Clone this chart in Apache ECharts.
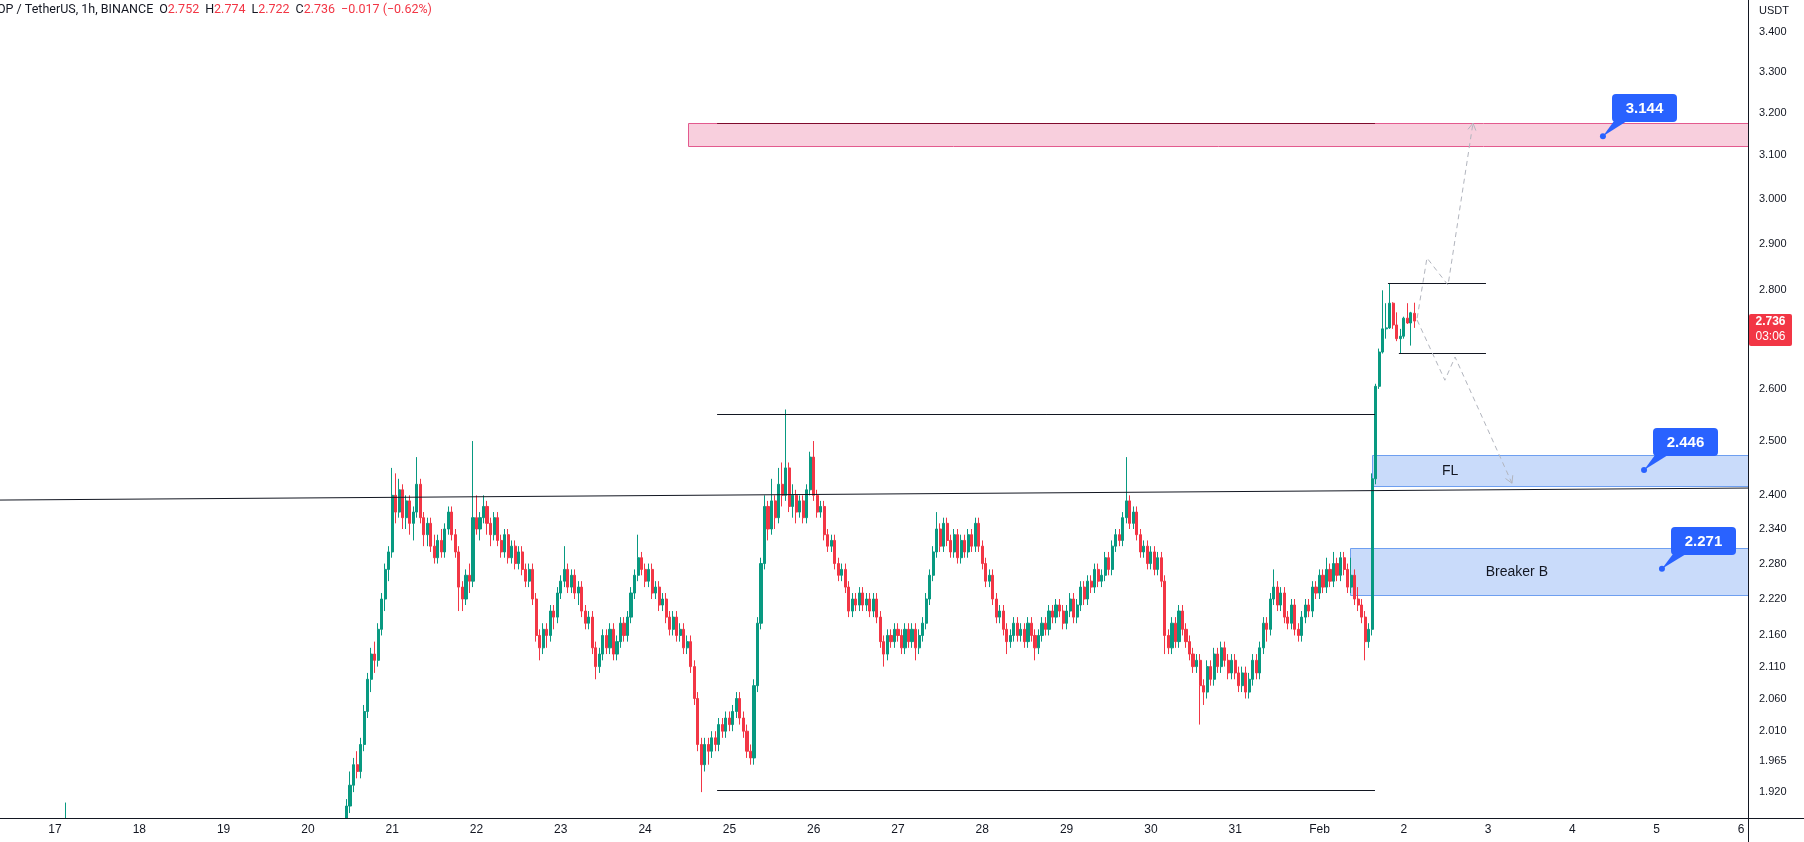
<!DOCTYPE html>
<html>
<head>
<meta charset="utf-8">
<script src="https://cdn.jsdelivr.net/npm/echarts@6/dist/echarts.min.js"></script>
<style>
html,body{margin:0;padding:0;background:#ffffff;}
#c{width:1804px;height:842px;}
</style>
</head>
<body>
<div id="c"></div>
<script>
// ---------------- DATA ----------------
const symbolTitle = 'OP / TetherUS, 1h, BINANCE';
const countdown = '03:06';
const quoteUnit = 'USDT';

// x axis: hours counted from 17 Jan 00:00
const dayLabels = ['17','18','19','20','21','22','23','24','25','26','27','28','29','30','31','Feb','2','3','4','5','6'];
const priceTicks = [3.4, 3.3, 3.2, 3.1, 3.0, 2.9, 2.8, 2.6, 2.5, 2.4, 2.34, 2.28, 2.22, 2.16, 2.11, 2.06, 2.01, 1.965, 1.92];

// early candle visible at the bottom edge: [hour, open, high, low, close]
const earlyCandles = [[3, 1.80, 1.905, 1.79, 1.84]];

// hourly candles [open, high, low, close], first one at hour 83 (20 Jan 11:00)
const firstHour = 83;
const candles = [
  // 20 Jan
  [1.85,1.91,1.84,1.90],[1.90,1.95,1.89,1.93],[1.93,1.97,1.92,1.96],[1.96,1.98,1.94,1.95],[1.95,2.00,1.94,1.99],
  [1.99,2.05,1.98,2.04],[2.04,2.10,2.03,2.09],[2.09,2.14,2.07,2.13],[2.13,2.15,2.10,2.12],[2.12,2.18,2.11,2.17],
  [2.17,2.23,2.16,2.22],[2.22,2.28,2.20,2.27],[2.27,2.31,2.25,2.30],[2.30,2.45,2.29,2.40],
  // 21 Jan
  [2.40,2.44,2.35,2.37],[2.37,2.43,2.36,2.41],[2.41,2.42,2.34,2.36],[2.36,2.40,2.34,2.39],[2.39,2.40,2.33,2.35],
  [2.35,2.38,2.32,2.37],[2.37,2.47,2.36,2.42],[2.42,2.43,2.35,2.36],[2.36,2.37,2.31,2.33],[2.33,2.36,2.31,2.35],
  [2.35,2.36,2.30,2.31],[2.31,2.33,2.28,2.29],[2.29,2.33,2.28,2.32],[2.32,2.34,2.29,2.30],[2.30,2.35,2.29,2.34],
  [2.34,2.38,2.33,2.37],[2.37,2.38,2.32,2.33],[2.33,2.34,2.29,2.30],[2.30,2.31,2.20,2.24],[2.24,2.25,2.20,2.22],
  [2.22,2.27,2.21,2.26],[2.26,2.28,2.23,2.25],[2.25,2.50,2.24,2.36],[2.36,2.40,2.33,2.34],
  // 22 Jan
  [2.34,2.37,2.32,2.36],[2.36,2.40,2.35,2.38],[2.38,2.39,2.33,2.35],[2.35,2.36,2.31,2.33],[2.33,2.37,2.32,2.36],
  [2.36,2.37,2.31,2.32],[2.32,2.33,2.29,2.30],[2.30,2.34,2.29,2.33],[2.33,2.34,2.28,2.29],[2.29,2.32,2.28,2.31],
  [2.31,2.32,2.27,2.28],[2.28,2.31,2.27,2.30],[2.30,2.31,2.26,2.27],[2.27,2.28,2.24,2.25],[2.25,2.28,2.24,2.27],
  [2.27,2.28,2.21,2.22],[2.22,2.23,2.15,2.16],[2.16,2.17,2.12,2.14],[2.14,2.18,2.13,2.17],[2.17,2.18,2.14,2.16],
  [2.16,2.21,2.15,2.20],[2.20,2.21,2.17,2.19],[2.19,2.24,2.18,2.23],[2.23,2.26,2.22,2.25],
  // 23 Jan
  [2.25,2.31,2.24,2.27],[2.27,2.28,2.23,2.24],[2.24,2.27,2.23,2.26],[2.26,2.27,2.22,2.23],[2.23,2.25,2.21,2.24],
  [2.24,2.25,2.19,2.20],[2.20,2.21,2.17,2.18],[2.18,2.20,2.17,2.19],[2.19,2.20,2.13,2.14],[2.14,2.15,2.09,2.11],
  [2.11,2.14,2.10,2.13],[2.13,2.17,2.12,2.16],[2.16,2.17,2.13,2.14],[2.14,2.18,2.13,2.17],[2.17,2.18,2.12,2.13],
  [2.13,2.16,2.12,2.15],[2.15,2.19,2.14,2.18],[2.18,2.19,2.15,2.16],[2.16,2.20,2.15,2.19],[2.19,2.24,2.18,2.23],
  [2.23,2.27,2.22,2.26],[2.26,2.33,2.25,2.29],[2.29,2.30,2.26,2.27],[2.27,2.28,2.24,2.25],
  // 24 Jan
  [2.25,2.28,2.24,2.27],[2.27,2.28,2.22,2.23],[2.23,2.25,2.22,2.24],[2.24,2.25,2.20,2.21],[2.21,2.23,2.20,2.22],
  [2.22,2.23,2.18,2.19],[2.19,2.20,2.16,2.17],[2.17,2.20,2.16,2.19],[2.19,2.20,2.15,2.16],[2.16,2.18,2.15,2.17],
  [2.17,2.18,2.13,2.14],[2.14,2.16,2.13,2.15],[2.15,2.16,2.10,2.11],[2.11,2.12,2.05,2.06],[2.06,2.07,1.98,1.99],
  [1.99,2.00,1.92,1.96],[1.96,2.00,1.95,1.99],[1.99,2.00,1.96,1.98],[1.98,2.01,1.97,2.00],[2.00,2.01,1.98,1.99],
  [1.99,2.03,1.98,2.02],[2.02,2.03,2.00,2.01],[2.01,2.04,2.00,2.03],[2.03,2.04,2.01,2.02],
  // 25 Jan
  [2.02,2.05,2.01,2.04],[2.04,2.07,2.03,2.06],[2.06,2.07,2.02,2.03],[2.03,2.04,2.00,2.01],[2.01,2.02,1.97,1.98],
  [1.98,1.99,1.96,1.97],[1.97,2.09,1.96,2.08],[2.08,2.19,2.07,2.18],[2.18,2.29,2.17,2.28],[2.28,2.40,2.27,2.38],
  [2.38,2.39,2.32,2.34],[2.34,2.43,2.33,2.39],[2.39,2.40,2.34,2.36],[2.36,2.45,2.35,2.42],[2.42,2.46,2.38,2.40],
  [2.40,2.56,2.39,2.45],[2.45,2.46,2.37,2.38],[2.38,2.42,2.36,2.40],[2.40,2.41,2.35,2.37],[2.37,2.40,2.36,2.39],
  [2.39,2.40,2.35,2.36],[2.36,2.42,2.35,2.41],[2.41,2.48,2.40,2.47],[2.47,2.50,2.39,2.40],
  // 26 Jan
  [2.40,2.41,2.36,2.37],[2.37,2.39,2.36,2.38],[2.38,2.39,2.32,2.33],[2.33,2.34,2.30,2.31],[2.31,2.33,2.30,2.32],
  [2.32,2.33,2.27,2.28],[2.28,2.29,2.25,2.26],[2.26,2.28,2.25,2.27],[2.27,2.28,2.23,2.24],[2.24,2.25,2.19,2.20],
  [2.20,2.23,2.19,2.22],[2.22,2.23,2.20,2.21],[2.21,2.24,2.20,2.23],[2.23,2.24,2.20,2.21],[2.21,2.23,2.20,2.22],
  [2.22,2.23,2.19,2.20],[2.20,2.23,2.19,2.22],[2.22,2.23,2.18,2.19],[2.19,2.20,2.14,2.15],[2.15,2.16,2.11,2.13],
  [2.13,2.17,2.12,2.16],[2.16,2.17,2.14,2.15],[2.15,2.18,2.14,2.17],[2.17,2.18,2.15,2.16],
  // 27 Jan
  [2.16,2.17,2.13,2.14],[2.14,2.18,2.13,2.17],[2.17,2.18,2.14,2.15],[2.15,2.18,2.14,2.17],[2.17,2.18,2.12,2.14],
  [2.14,2.17,2.13,2.16],[2.16,2.19,2.15,2.18],[2.18,2.23,2.17,2.22],[2.22,2.27,2.21,2.26],[2.26,2.31,2.25,2.30],
  [2.30,2.37,2.29,2.34],[2.34,2.35,2.30,2.31],[2.31,2.36,2.30,2.35],[2.35,2.36,2.31,2.32],[2.32,2.33,2.29,2.30],
  [2.30,2.34,2.29,2.33],[2.33,2.34,2.28,2.29],[2.29,2.33,2.28,2.32],[2.32,2.33,2.29,2.30],[2.30,2.34,2.29,2.33],
  [2.33,2.34,2.30,2.31],[2.31,2.36,2.30,2.35],[2.35,2.36,2.30,2.31],[2.31,2.32,2.27,2.28],
  // 28 Jan
  [2.28,2.29,2.24,2.25],[2.25,2.27,2.24,2.26],[2.26,2.27,2.21,2.22],[2.22,2.23,2.18,2.19],[2.19,2.21,2.18,2.20],
  [2.20,2.21,2.16,2.17],[2.17,2.18,2.13,2.15],[2.15,2.17,2.14,2.16],[2.16,2.19,2.15,2.18],[2.18,2.19,2.15,2.16],
  [2.16,2.18,2.15,2.17],[2.17,2.18,2.14,2.15],[2.15,2.19,2.14,2.18],[2.18,2.19,2.15,2.16],[2.16,2.17,2.12,2.14],
  [2.14,2.17,2.13,2.16],[2.16,2.19,2.15,2.18],[2.18,2.19,2.16,2.17],[2.17,2.21,2.16,2.20],[2.20,2.21,2.18,2.19],
  [2.19,2.22,2.18,2.21],[2.21,2.22,2.19,2.20],[2.20,2.21,2.17,2.18],[2.18,2.21,2.17,2.20],
  // 29 Jan
  [2.20,2.23,2.19,2.22],[2.22,2.23,2.18,2.19],[2.19,2.22,2.18,2.21],[2.21,2.25,2.20,2.24],[2.24,2.25,2.21,2.22],
  [2.22,2.26,2.21,2.25],[2.25,2.26,2.23,2.24],[2.24,2.28,2.23,2.27],[2.27,2.28,2.24,2.25],[2.25,2.27,2.24,2.26],
  [2.26,2.30,2.25,2.29],[2.29,2.30,2.26,2.27],[2.27,2.32,2.26,2.31],[2.31,2.34,2.30,2.33],[2.33,2.34,2.31,2.32],
  [2.32,2.37,2.31,2.36],[2.36,2.47,2.35,2.39],[2.39,2.40,2.34,2.35],[2.35,2.38,2.34,2.37],[2.37,2.38,2.32,2.33],
  [2.33,2.34,2.29,2.30],[2.30,2.32,2.29,2.31],[2.31,2.32,2.27,2.28],[2.28,2.31,2.27,2.30],
  // 30 Jan
  [2.30,2.31,2.26,2.27],[2.27,2.30,2.26,2.29],[2.29,2.30,2.24,2.25],[2.25,2.26,2.13,2.16],[2.16,2.17,2.13,2.14],
  [2.14,2.19,2.13,2.18],[2.18,2.19,2.14,2.15],[2.15,2.21,2.14,2.20],[2.20,2.21,2.16,2.17],[2.17,2.18,2.14,2.15],
  [2.15,2.16,2.12,2.13],[2.13,2.14,2.10,2.11],[2.11,2.13,2.10,2.12],[2.12,2.13,2.02,2.08],[2.08,2.09,2.05,2.07],
  [2.07,2.12,2.06,2.11],[2.11,2.12,2.08,2.09],[2.09,2.14,2.08,2.13],[2.13,2.14,2.10,2.11],[2.11,2.15,2.10,2.14],
  [2.14,2.15,2.11,2.12],[2.12,2.13,2.09,2.10],[2.10,2.13,2.09,2.12],[2.12,2.13,2.09,2.10],
  // 31 Jan
  [2.10,2.11,2.07,2.08],[2.08,2.11,2.07,2.10],[2.10,2.11,2.06,2.07],[2.07,2.10,2.06,2.09],[2.09,2.13,2.08,2.12],
  [2.12,2.13,2.09,2.10],[2.10,2.15,2.09,2.14],[2.14,2.19,2.13,2.18],[2.18,2.19,2.15,2.17],[2.17,2.23,2.16,2.22],
  [2.22,2.27,2.21,2.24],[2.24,2.25,2.20,2.21],[2.21,2.24,2.20,2.23],[2.23,2.24,2.18,2.19],[2.19,2.20,2.17,2.18],
  [2.18,2.22,2.17,2.21],[2.21,2.22,2.16,2.17],[2.17,2.18,2.15,2.16],[2.16,2.20,2.15,2.19],[2.19,2.22,2.18,2.21],
  [2.21,2.22,2.19,2.20],[2.20,2.25,2.19,2.24],[2.24,2.25,2.22,2.23],[2.23,2.27,2.22,2.26],
  // 1 Feb
  [2.26,2.27,2.23,2.24],[2.24,2.29,2.23,2.27],[2.27,2.28,2.24,2.25],[2.25,2.30,2.24,2.28],[2.28,2.29,2.25,2.26],
  [2.26,2.30,2.25,2.29],[2.29,2.30,2.26,2.27],[2.27,2.28,2.23,2.24],[2.24,2.29,2.23,2.26],[2.26,2.27,2.21,2.22],
  [2.22,2.24,2.20,2.21],[2.21,2.22,2.18,2.19],[2.19,2.20,2.12,2.15],[2.15,2.18,2.14,2.17],[2.17,2.44,2.16,2.43],
  [2.43,2.61,2.42,2.605],[2.605,2.68,2.60,2.673],[2.673,2.80,2.67,2.72],[2.72,2.773,2.70,2.722],[2.722,2.815,2.72,2.773],
  [2.773,2.775,2.72,2.728],[2.728,2.754,2.695,2.70],[2.70,2.72,2.671,2.705],[2.705,2.745,2.70,2.742],
  // 2 Feb
  [2.742,2.773,2.73,2.732],[2.732,2.755,2.686,2.753],[2.752,2.774,2.722,2.736]
];

// drawings (hours from 17 Jan 00:00, prices in USDT)
const zones = [
  { kind: 'target', from: 180.2, to: 482.0, low: 3.121, high: 3.175, text: '', textHour: 0 },
  { kind: 'demand', from: 374.9, to: 482.0, low: 2.417, high: 2.474, text: 'FL', textHour: 397.2 },
  { kind: 'demand', from: 368.7, to: 482.0, low: 2.2265, high: 2.3066, text: 'Breaker B', textHour: 416.2 }
];
// [fromHour, fromPrice, toHour, toPrice, kind]
const levelLines = [
  [188.5, 3.175, 375.8, 3.175, 'accent'],
  [188.5, 2.551, 375.8, 2.551, 'plain'],
  [188.5, 1.923, 375.8, 1.923, 'plain'],
  [-15.66, 2.3915, 482.0, 2.4132, 'plain'],
  [379.5, 2.815, 407.4, 2.815, 'plain'],
  [382.6, 2.671, 407.4, 2.671, 'plain']
];
const projections = [
  [[387.8, 2.742], [390.6, 2.869], [396.6, 2.811], [403.7, 3.175]],
  [[387.8, 2.738], [395.7, 2.617], [398.6, 2.663], [414.8, 2.422]]
];
const callouts = [
  { hour: 440.7, price: 3.144 },
  { hour: 452.4, price: 2.446 },
  { hour: 457.5, price: 2.271 }
];

// ---------------- CHART ----------------
const X_MIN = -15.66, X_MAX = 482.0, Y_MIN = 1.883, Y_MAX = 3.483;
const UP = '#089981', DOWN = '#f23645', BLUE = '#2962ff', INK = '#131722';
const FONT = '"Liberation Sans", Arial, sans-serif';
const HFONT = 'Roboto, "Liberation Sans", sans-serif';

const candleData = [];
earlyCandles.forEach(r => candleData.push([r[0], r[1], r[4], r[3], r[2]]));
candles.forEach((r, i) => candleData.push([firstHour + i, r[0], r[3], r[2], r[1]]));
const lastHour = firstHour + candles.length - 1;
const last = candles[candles.length - 1];
const prev = candles[candles.length - 2];

const zoneStyle = {
  target: { fill: 'rgba(227,63,119,0.25)', stroke: '#e35a8e' },
  demand: { fill: 'rgba(41,110,235,0.25)', stroke: '#6e9ff0' }
};
const lineColor = { accent: '#7f0a2c', plain: INK };

function headerText() {
  const f = v => v.toFixed(3);
  const chg = last[3] - prev[3];
  const pct = chg / prev[3] * 100;
  const s = chg < 0 ? '\u2212' : '+';
  return '{d|' + symbolTitle + '}  {d|O}{r|' + f(last[0]) + '}  {d|H}{r|' + f(last[1]) + '}  {d|L}{r|' + f(last[2]) +
    '}  {d|C}{r|' + f(last[3]) + '}  {r|' + s + Math.abs(chg).toFixed(3) + ' (' + s + Math.abs(pct).toFixed(2) + '%)}';
}

function txt(x, y, text, font, fill, align, valign) {
  return { type: 'text', style: { x: x, y: y, text: text, font: font, fill: fill,
    align: align, verticalAlign: valign, textAlign: align, textVerticalAlign: valign } };
}

const chart = echarts.init(document.getElementById('c'), null, { renderer: 'canvas' });
chart.setOption({
  animation: false,
  backgroundColor: '#ffffff',
  grid: { left: 0, right: 56, top: 0, bottom: 24 },
  xAxis: {
    type: 'value', min: X_MIN, max: X_MAX, z: 20,
    axisLine: { show: false }, axisTick: { show: false }, splitLine: { show: false },
    axisLabel: {
      customValues: dayLabels.map((_, i) => i * 24),
      formatter: v => dayLabels[Math.round(v / 24)],
      color: INK, fontSize: 12, fontFamily: 'Liberation Sans', margin: 6
    }
  },
  yAxis: {
    type: 'log', logBase: 10, min: Y_MIN, max: Y_MAX, position: 'right', z: 20,
    axisLine: { show: false }, axisTick: { show: false }, splitLine: { show: false },
    axisLabel: {
      customValues: priceTicks,
      formatter: v => Number(v).toFixed(3),
      color: INK, fontSize: 11, fontFamily: 'Liberation Sans', margin: 11
    }
  },
  series: [
    {
      type: 'custom', z: 1, clip: false,
      data: zones.map(z => [z.from, z.low]),
      encode: { x: 0, y: 1 },
      renderItem: (params, api) => {
        const z = zones[params.dataIndex];
        const st = zoneStyle[z.kind];
        const a = api.coord([z.from, z.high]);
        const b = api.coord([z.to, z.low]);
        const ch = [{ type: 'rect', shape: { x: Math.round(a[0]) + 0.5, y: Math.round(a[1]) + 0.5,
          width: Math.round(b[0] - a[0]), height: Math.round(b[1] - a[1]) },
          style: { fill: st.fill, stroke: st.stroke, lineWidth: 1 } }];
        if (z.text) {
          const c = api.coord([z.textHour, Math.sqrt(z.low * z.high)]);
          ch.push(txt(c[0], c[1] + 1, z.text, '14px ' + FONT, INK, 'center', 'middle'));
        }
        return { type: 'group', children: ch };
      }
    },
    {
      type: 'candlestick', z: 2, clip: true,
      data: candleData,
      encode: { x: 0, y: [1, 2, 3, 4] },
      barWidth: 2.6,
      itemStyle: { color: UP, color0: DOWN, borderColor: UP, borderColor0: DOWN, borderWidth: 1 }
    },
    {
      type: 'custom', z: 3, clip: false,
      data: levelLines.map(l => [l[0], l[1]]),
      encode: { x: 0, y: 1 },
      renderItem: (params, api) => {
        const l = levelLines[params.dataIndex];
        const a = api.coord([l[0], l[1]]);
        const b = api.coord([l[2], l[3]]);
        const flat = Math.abs(a[1] - b[1]) < 0.5;
        const ya = flat ? Math.round(a[1]) + 0.5 : a[1];
        const yb = flat ? ya : b[1];
        return { type: 'line', shape: { x1: a[0], y1: ya, x2: b[0], y2: yb },
          style: { stroke: lineColor[l[4]], lineWidth: 1 } };
      }
    },
    {
      type: 'custom', z: 4, clip: false,
      data: projections.map(p => [p[0][0], p[0][1]]),
      encode: { x: 0, y: 1 },
      renderItem: (params, api) => {
        const path = projections[params.dataIndex].map(p => api.coord(p));
        const n = path.length;
        const e = path[n - 1], s = path[n - 2];
        const ang = Math.atan2(e[1] - s[1], e[0] - s[0]);
        const L = 8, w = Math.PI / 6;
        const w1 = [e[0] - L * Math.cos(ang - w), e[1] - L * Math.sin(ang - w)];
        const w2 = [e[0] - L * Math.cos(ang + w), e[1] - L * Math.sin(ang + w)];
        const st = { stroke: '#b2b5be', lineWidth: 1, lineDash: [5, 4], fill: null };
        return { type: 'group', children: [
          { type: 'polyline', shape: { points: path }, style: st },
          { type: 'polyline', shape: { points: [w1, e, w2] }, style: { stroke: '#b2b5be', lineWidth: 1, fill: null } }
        ] };
      }
    },
    {
      type: 'custom', z: 5, clip: false,
      data: callouts.map(c => [c.hour, c.price]),
      encode: { x: 0, y: 1 },
      renderItem: (params, api) => {
        const c = callouts[params.dataIndex];
        const p = api.coord([c.hour, c.price]);
        const bx = Math.round(p[0] + 9), by = Math.round(p[1] - 42);
        return { type: 'group', children: [
          { type: 'polygon', shape: { points: [[p[0], p[1]], [bx + 2, by + 27], [bx + 15, by + 27]] }, style: { fill: BLUE } },
          { type: 'circle', shape: { cx: p[0], cy: p[1], r: 3 }, style: { fill: BLUE } },
          { type: 'rect', shape: { x: bx, y: by, width: 65, height: 28, r: 4 }, style: { fill: BLUE } },
          txt(bx + 32.5, by + 14.5, c.price.toFixed(3), 'bold 15px ' + FONT, '#ffffff', 'center', 'middle')
        ] };
      }
    },
    {
      type: 'custom', z: 6, clip: false,
      data: [[lastHour, last[3]]],
      encode: { x: 0, y: 1 },
      renderItem: (params, api) => {
        const p = api.coord([X_MAX, last[3]]);
        const x0 = Math.round(p[0]) + 1, y0 = Math.round(p[1]);
        return { type: 'group', children: [
          { type: 'rect', shape: { x: x0, y: y0 - 7, width: 43, height: 32, r: 2 }, style: { fill: DOWN } },
          txt(x0 + 21.5, y0 + 1, last[3].toFixed(3), 'bold 12px ' + FONT, '#ffffff', 'center', 'middle'),
          txt(x0 + 21.5, y0 + 16, countdown, '12px ' + FONT, '#ffffff', 'center', 'middle')
        ] };
      }
    }
  ],
  graphic: [
    // white band under the plot so candles reaching below the price range are cut at the time axis
    { type: 'rect', z: 8, shape: { x: 0, y: 819, width: 1748, height: 23 }, style: { fill: '#ffffff' } },
    { type: 'line', z: 10, shape: { x1: 1748.5, y1: 0, x2: 1748.5, y2: 842 }, style: { stroke: INK, lineWidth: 1 } },
    { type: 'line', z: 10, shape: { x1: 0, y1: 818.5, x2: 1804, y2: 818.5 }, style: { stroke: INK, lineWidth: 1 } },
    { type: 'text', z: 10, left: 1759, top: 5, style: { text: quoteUnit, font: '11px ' + FONT, fill: INK } },
    { type: 'text', z: 10, left: -3, top: 3, style: {
        text: headerText(), font: '12px ' + HFONT, fill: INK,
        rich: { d: { fill: INK, color: INK, font: '12.5px ' + HFONT }, r: { fill: DOWN, color: DOWN, font: '12.5px ' + HFONT } }
      } }
  ]
});
</script>
</body>
</html>
